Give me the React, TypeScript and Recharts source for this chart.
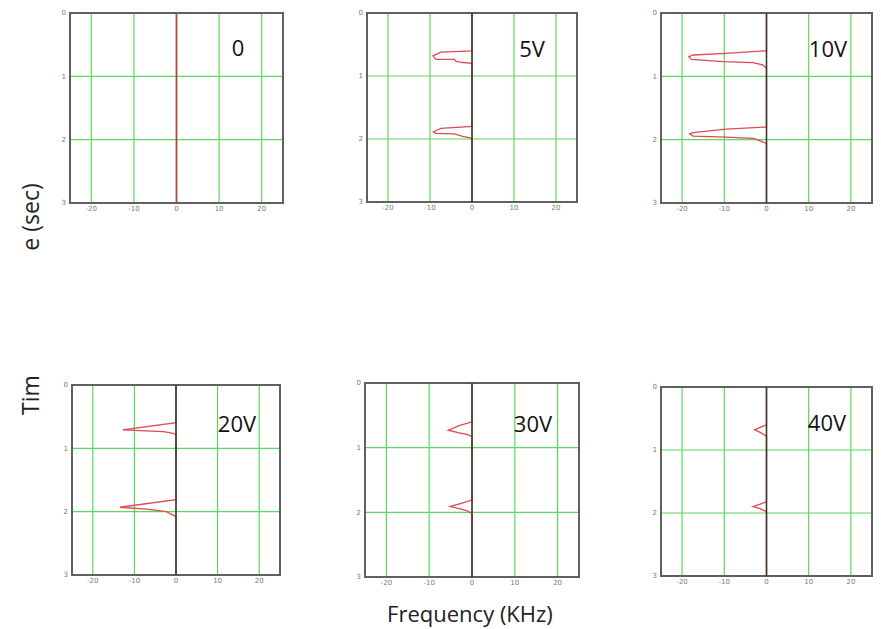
import { LineChart, Line, XAxis, YAxis, CartesianGrid, ReferenceArea } from 'recharts';

const freqTicks = [-20, -10, 0, 10, 20];
const timeTicks = [0, 1, 2, 3];
const voltLabels = ['0', '5V', '10V', '20V', '30V', '40V'];

// red trace per panel: frequency (KHz) and time (sec)
const f0 = [0, 0];
const t0 = [0, 3];
const f5 = [0, 0, -7.4, -9.3, -8.6, -4.2, -3.8, -2.2, 0, 0, -7.4, -9.2, -8.6, -4.2, -2.2, 0, 0];
const t5 = [0, 0.6, 0.62, 0.68, 0.735, 0.735, 0.77, 0.786, 0.8, 1.8, 1.83, 1.885, 1.91, 1.92, 1.96, 1.99, 3];
const f10 = [0, 0, -9.6, -17.4, -18.4, -17.8, -10.3, -3.2, -0.9, 0, 0, -9.6, -17.4, -18.2, -17.4, -9.6, -3, 0, 0];
const t10 = [0, 0.595, 0.637, 0.663, 0.69, 0.732, 0.768, 0.784, 0.82, 0.874, 1.8, 1.835, 1.89, 1.91, 1.943, 1.96, 1.98, 2.06, 3];
const f20 = [0, 0, -12.8, -3, -0.6, 0, 0, -13.5, -7.1, -2.3, 0, 0];
const t20 = [0, 0.594, 0.71, 0.737, 0.763, 0.79, 1.81, 1.93, 1.96, 2.0, 2.08, 3];
const f30 = [0, 0, -3, -5.5, -3, -1, 0, 0, -2.5, -5.1, -2.5, -1, 0, 0];
const t30 = [0, 0.6, 0.66, 0.73, 0.77, 0.8, 0.83, 1.81, 1.86, 1.91, 1.95, 1.98, 2.02, 3];
const f40 = [0, 0, -1.5, -2.8, -1.5, 0, 0, -1.5, -3.2, -1.5, 0, 0];
const t40 = [0, 0.6, 0.64, 0.68, 0.72, 0.78, 1.82, 1.86, 1.9, 1.93, 1.98, 3];

const traceFreqs = [f0, f5, f10, f20, f30, f40];
const traceTimes = [t0, t5, t10, t20, t30, t40];

const trunk = [{ f: 0, t: 0 }, { f: 0, t: 3 }];

// plot-area boxes of the six panels on the page: left, top, width, height
const boxes = [
  [70, 13, 213, 190],
  [367, 13, 210, 189],
  [661, 13, 211, 190],
  [72, 385, 208, 190],
  [365, 383, 214, 194],
  [661, 387, 211, 189],
];
const labelPos = [
  [238, 47],
  [532, 48],
  [828, 48],
  [237, 423],
  [533, 423],
  [827, 422],
];

const YW = 14;
const XH = 16;
const MT = 4;
const MR = 4;

const Panel = ({ i }: { i: number }) => {
  const [l, t, w, h] = boxes[i];
  const data = traceFreqs[i].map((f, k) => ({ f, t: traceTimes[i][k] }));
  return (
    <div style={{ position: 'absolute', left: l - YW, top: t - MT }}>
      <LineChart width={YW + w + MR} height={MT + h + XH} margin={{ top: MT, right: MR, left: 0, bottom: 0 }}>
        <CartesianGrid stroke="#5ad85a" strokeWidth={1.2} />
        <XAxis
          type="number"
          dataKey="f"
          domain={[-25, 25]}
          ticks={freqTicks}
          allowDataOverflow
          height={XH}
          tickLine={false}
          axisLine={false}
          tickSize={2}
          tickMargin={1}
          tick={{ fontSize: 7, fill: '#777', fontFamily: 'DejaVu Sans' }}
        />
        <YAxis
          type="number"
          domain={[0, 3]}
          ticks={timeTicks}
          reversed
          allowDataOverflow
          width={YW}
          tickLine={false}
          axisLine={false}
          tickSize={3}
          tickMargin={1}
          tick={{ fontSize: 7, fill: '#777', fontFamily: 'DejaVu Sans' }}
        />
        <ReferenceArea x1={-25} x2={25} y1={0} y2={3} fill="none" stroke="#606060" strokeWidth={2} ifOverflow="visible" />
        <Line data={data} dataKey="t" type="linear" stroke="#dc4a55" strokeWidth={1.3} dot={false} isAnimationActive={false} />
        <Line
          data={trunk}
          dataKey="t"
          type="linear"
          stroke={i === 0 ? '#b0454a' : '#3d3028'}
          strokeWidth={1.5}
          dot={false}
          isAnimationActive={false}
        />
      </LineChart>
    </div>
  );
};

export default function App() {
  return (
    <div style={{ position: 'absolute', left: 0, top: 0, width: 881, height: 629, background: '#fff' }}>
      {boxes.map((_, i) => (
        <Panel key={i} i={i} />
      ))}
      <svg width={881} height={629} style={{ position: 'absolute', left: 0, top: 0, pointerEvents: 'none' }}>
        {voltLabels.map((s, i) => (
          <text
            key={s}
            x={labelPos[i][0]}
            y={labelPos[i][1]}
            textAnchor="middle"
            dominantBaseline="central"
            fontSize={22}
            fontFamily="Open Sans"
            fill="#111"
          >
            {s}
          </text>
        ))}
        <text x={470} y={613} textAnchor="middle" dominantBaseline="central" fontSize={22} fontFamily="Open Sans" fill="#222">
          Frequency (KHz)
        </text>
        <text
          transform="translate(30,217) rotate(-90)"
          textAnchor="middle"
          dominantBaseline="central"
          fontSize={23}
          fontFamily="Open Sans"
          fill="#222"
        >
          e (sec)
        </text>
        <text
          transform="translate(30,395) rotate(-90)"
          textAnchor="middle"
          dominantBaseline="central"
          fontSize={23}
          fontFamily="Open Sans"
          fill="#222"
        >
          Tim
        </text>
      </svg>
    </div>
  );
}
